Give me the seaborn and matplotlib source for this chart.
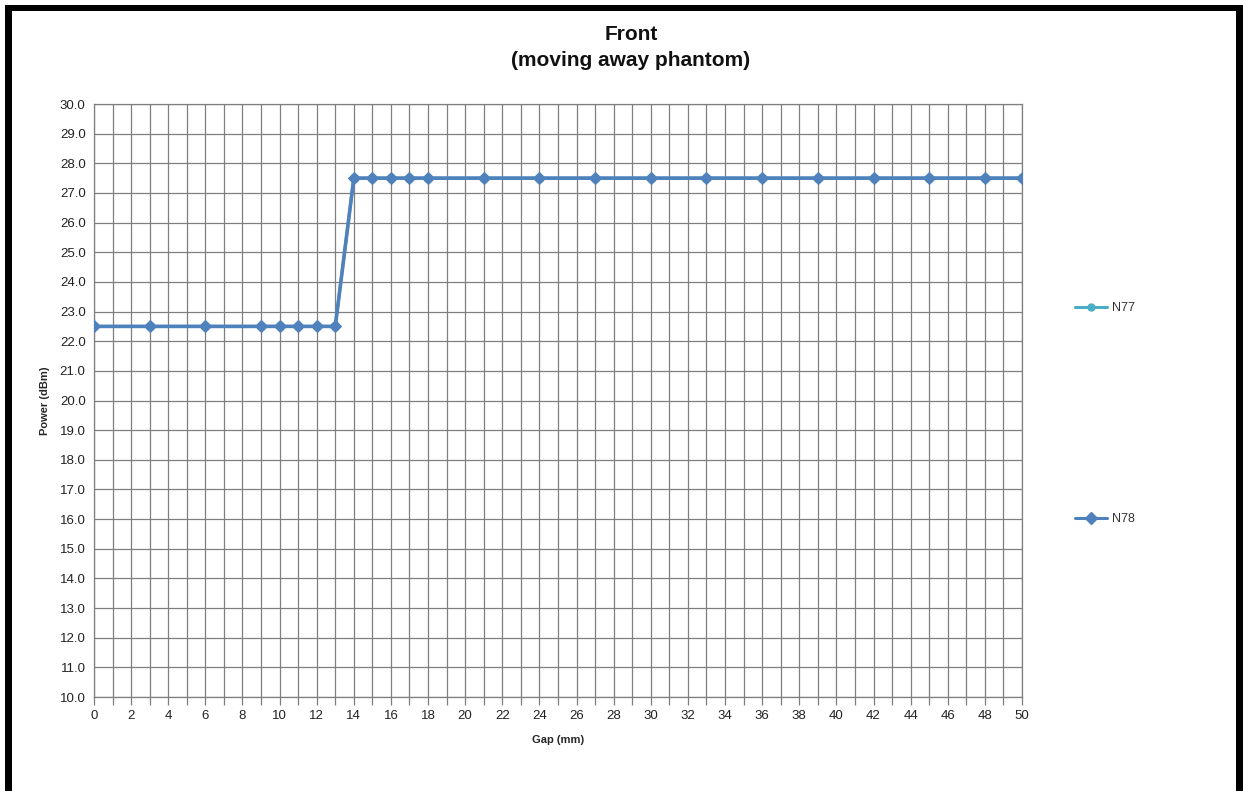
import matplotlib
matplotlib.use("Agg")
import matplotlib.pyplot as plt
from matplotlib.lines import Line2D
from matplotlib.patches import Rectangle
import seaborn as sns
import pandas as pd
import numpy as np

# Measured conducted power vs. gap
gap_mm = [0, 3, 6, 9, 10, 11, 12, 13, 14, 15, 16, 17, 18, 21, 24, 27, 30,
          33, 36, 39, 42, 45, 48, 50]
n77_dbm = [22.5, 22.5, 22.5, 22.5, 22.5, 22.5, 22.5, 22.5, 27.5, 27.5, 27.5,
           27.5, 27.5, 27.5, 27.5, 27.5, 27.5, 27.5, 27.5, 27.5, 27.5, 27.5,
           27.5, 27.5]
n78_dbm = [22.5, 22.5, 22.5, 22.5, 22.5, 22.5, 22.5, 22.5, 27.5, 27.5, 27.5,
           27.5, 27.5, 27.5, 27.5, 27.5, 27.5, 27.5, 27.5, 27.5, 27.5, 27.5,
           27.5, 27.5]
series_names = ["N77", "N78"]
x_ticks = list(range(0, 51, 2))
y_ticks = [10.0 + i for i in range(21)]

sns.set_theme(style="white")
plt.rcParams["font.family"] = ["Liberation Sans", "DejaVu Sans"]

df = pd.DataFrame({
    "gap": gap_mm * 2,
    "power": n77_dbm + n78_dbm,
    "band": [series_names[0]] * len(gap_mm) + [series_names[1]] * len(gap_mm),
})

fig = plt.figure(figsize=(12.43, 7.91), dpi=100)
ax = fig.add_axes([0.0756, 0.1188, 0.7466, 0.7497])

colors = {"N77": "#4bacc6", "N78": "#4f81bd"}
markers = {"N77": "o", "N78": "D"}
sizes = {"N77": 6, "N78": 6}
widths = {"N77": 2.2, "N78": 2.6}
for name in series_names:
    sub = df[df["band"] == name]
    sns.lineplot(data=sub, x="gap", y="power", ax=ax, color=colors[name],
                 marker=markers[name], markersize=sizes[name],
                 markeredgecolor=colors[name], linewidth=widths[name],
                 legend=False, zorder=3)

ax.set_xlim(0, 50)
ax.set_ylim(10, 30)
ax.set_xticks(x_ticks)
ax.set_xticklabels([str(v) for v in x_ticks], fontsize=9.5, color="#222222")
ax.set_xticks(range(0, 51), minor=True)
ax.set_yticks(y_ticks)
ax.set_yticklabels([f"{v:.1f}" for v in y_ticks], fontsize=9.5, color="#222222")

ax.grid(True, which="both", axis="x", color="#7f7f7f", linewidth=0.9)
ax.grid(True, which="major", axis="y", color="#7f7f7f", linewidth=0.9)
ax.tick_params(axis="x", which="both", direction="out", length=6,
               color="#7f7f7f", width=0.9, pad=3, bottom=True)
ax.tick_params(axis="y", which="major", direction="out", length=0, pad=6)
for side in ["left", "right", "top", "bottom"]:
    ax.spines[side].set_color("#7f7f7f")
    ax.spines[side].set_linewidth(0.9)

ax.set_xlabel("Gap (mm)", fontsize=8, fontweight="bold", labelpad=10)
ax.set_ylabel("Power (dBm)", fontsize=8, fontweight="bold", labelpad=7)

fig.text(0.5075, 0.957, "Front", ha="center", va="center",
         fontsize=15, fontweight="bold", color="#111111")
fig.text(0.5075, 0.923, "(moving away phantom)", ha="center", va="center",
         fontsize=15, fontweight="bold", color="#111111")

handles = [Line2D([0], [0], color=colors[n], marker=markers[n],
                  markersize=5 if n == "N77" else 6, linewidth=2.2)
           for n in series_names]
fig.legend(handles, series_names, loc="upper left",
           bbox_to_anchor=(0.8556, 0.632), frameon=False, fontsize=9,
           handlelength=2.6, handletextpad=0.35, labelspacing=15.9,
           labelcolor="#333333")

# Outer frame
frame_kw = dict(transform=fig.transFigure, facecolor="black",
                edgecolor="none", zorder=10)
fig.patches.append(Rectangle((5 / 1243, 0), 7 / 1243, 1 - 5 / 791, **frame_kw))
fig.patches.append(Rectangle((5 / 1243, 1 - 11 / 791), 1238 / 1243, 6 / 791, **frame_kw))
fig.patches.append(Rectangle((1236 / 1243, 0), 7 / 1243, 1 - 5 / 791, **frame_kw))

fig.savefig("out.png", dpi=100)
